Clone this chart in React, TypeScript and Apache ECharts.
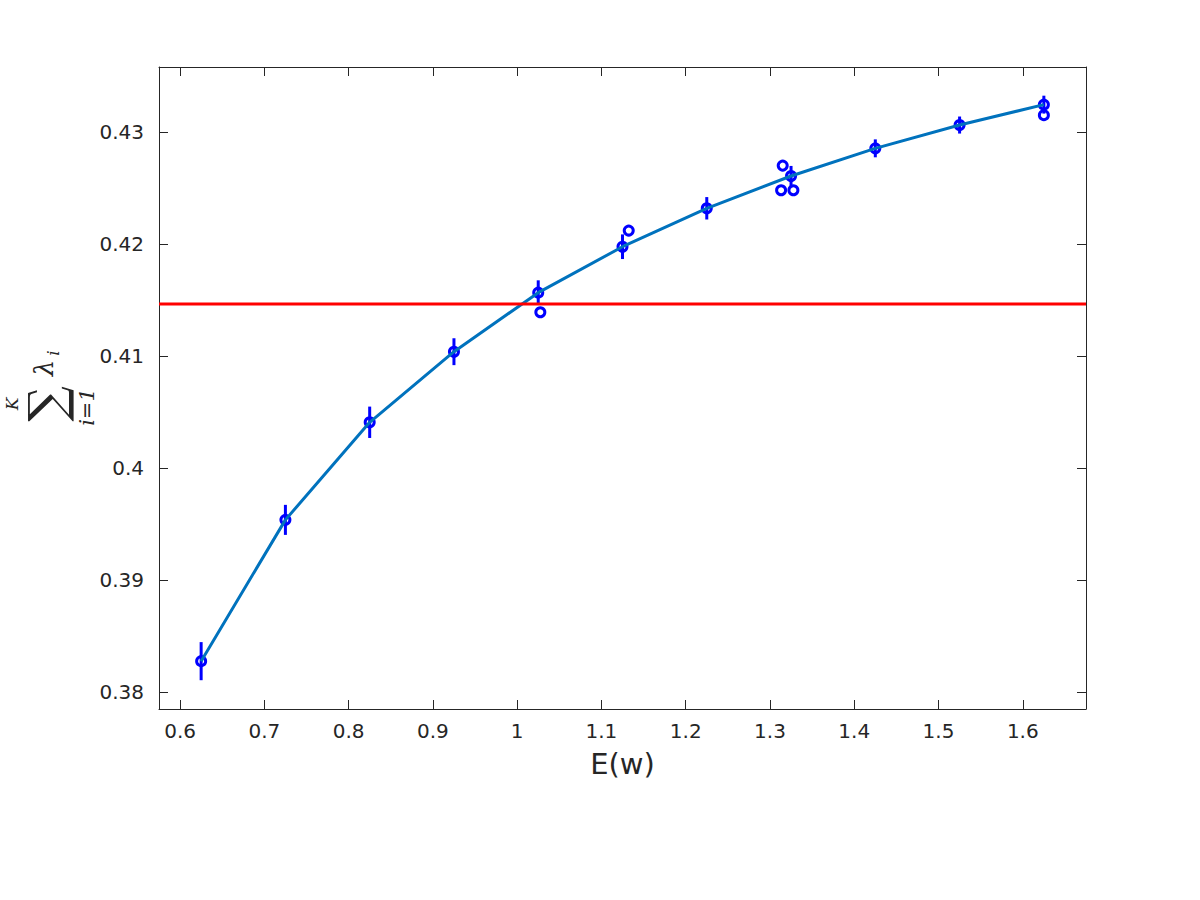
import React, { useEffect, useRef } from 'react';
import * as echarts from 'echarts';

const xValues = [0.625, 0.725, 0.825, 0.925, 1.025, 1.125, 1.225, 1.325, 1.425, 1.525, 1.625];
const meanValues = [0.38277, 0.39538, 0.40409, 0.41039, 0.41566, 0.41976, 0.42319, 0.42607, 0.42854, 0.43062, 0.43244];
const errValues = [0.0017, 0.00134, 0.0014, 0.0012, 0.0011, 0.0011, 0.001, 0.0009, 0.0008, 0.00076, 0.0008];
const extraX = [1.0275, 1.1324, 1.3151, 1.3132, 1.3278, 1.625];
const extraY = [0.41391, 0.4212, 0.427, 0.4248, 0.4248, 0.4315];
const thresholdY = 0.41465;
const xLabel = 'E(w)';

const AXIS_COLOR = '#262626';
const FONT = 'DejaVu Sans';

export default function App() {
  const ref = useRef<HTMLDivElement>(null);
  useEffect(() => {
    if (!ref.current) return;
    const chart = echarts.init(ref.current, null, { renderer: 'svg' });
    const xMin = 0.575, xMax = 1.675, yMin = 0.3785, yMax = 0.4358;
    const commonX = {
      type: 'value', min: xMin, max: xMax, splitNumber: 11,
      axisLine: { show: true, onZero: false, lineStyle: { color: AXIS_COLOR, width: 1 } },
      axisTick: { show: true, inside: true, length: 9, lineStyle: { color: AXIS_COLOR, width: 1 } },
      splitLine: { show: false },
    };
    const commonY = {
      type: 'value', min: yMin, max: yMax, splitNumber: 6,
      axisLine: { show: true, onZero: false, lineStyle: { color: AXIS_COLOR, width: 1 } },
      axisTick: { show: true, inside: true, length: 9, lineStyle: { color: AXIS_COLOR, width: 1 } },
      splitLine: { show: false },
    };
    const meanData = xValues.map((x, i) => [x, meanValues[i]]);
    const errData = xValues.map((x, i) => [x, meanValues[i] - errValues[i], meanValues[i] + errValues[i]]);
    const extraData = extraX.map((x, i) => [x, extraY[i]]);
    const markerStyle = { color: 'rgba(0,0,0,0)', borderColor: '#0000ff', borderWidth: 3, opacity: 1 };
    const option: any = {
      animation: false,
      backgroundColor: '#ffffff',
      grid: { left: 159, top: 67, right: 114, bottom: 191, containLabel: false },
      xAxis: [
        {
          ...commonX, position: 'bottom',
          axisLabel: { show: true, color: AXIS_COLOR, fontFamily: FONT, fontSize: 20, margin: 12, showMinLabel: false, showMaxLabel: false },
        },
        { ...commonX, position: 'top', axisLabel: { show: false } },
      ],
      yAxis: [
        {
          ...commonY, position: 'left',
          axisLabel: { show: true, color: AXIS_COLOR, fontFamily: FONT, fontSize: 20, margin: 15, showMinLabel: false, showMaxLabel: false },
        },
        { ...commonY, position: 'right', axisLabel: { show: false } },
      ],
      series: [
        {
          type: 'custom', xAxisIndex: 0, yAxisIndex: 0, z: 2,
          data: errData,
          renderItem: (params: any, api: any) => {
            const p1 = api.coord([api.value(0), api.value(1)]);
            const p2 = api.coord([api.value(0), api.value(2)]);
            return {
              type: 'line',
              shape: { x1: p1[0], y1: p1[1], x2: p2[0], y2: p2[1] },
              style: { stroke: '#0000ff', lineWidth: 3 },
            };
          },
        },
        {
          type: 'scatter', z: 3, data: meanData, symbol: 'circle', symbolSize: 9,
          itemStyle: markerStyle, emphasis: { disabled: true },
        },
        {
          type: 'scatter', z: 3, data: extraData, symbol: 'circle', symbolSize: 9,
          itemStyle: markerStyle, emphasis: { disabled: true },
        },
        {
          type: 'line', z: 4, data: meanData, showSymbol: false, symbol: 'none',
          lineStyle: { color: '#0072bd', width: 3 },
        },
        {
          type: 'line', z: 5, data: [[xMin, thresholdY], [xMax, thresholdY]], showSymbol: false, symbol: 'none',
          lineStyle: { color: '#ff0000', width: 3 },
        },
      ],
      graphic: [
        {
          type: 'text', x: 622.5, y: 764,
          style: { text: xLabel, fontFamily: FONT, fontSize: 29, fill: AXIS_COLOR, textAlign: 'center', textVerticalAlign: 'middle' },
        },
        {
          type: 'group', x: 47, y: 404, rotation: Math.PI / 2,
          children: [
            { type: 'text', x: 0, y: 0, style: { text: '∑', fontFamily: 'DejaVu Serif', fontSize: 50, fill: AXIS_COLOR, textAlign: 'center', textVerticalAlign: 'middle' } },
            { type: 'text', x: 0, y: -35, style: { text: 'K', fontFamily: 'DejaVu Serif', fontStyle: 'italic', fontSize: 17, fill: AXIS_COLOR, textAlign: 'center', textVerticalAlign: 'middle' } },
            { type: 'text', x: -3, y: 40, style: { text: 'i=1', fontFamily: 'DejaVu Serif', fontStyle: 'italic', fontSize: 21, fill: AXIS_COLOR, textAlign: 'center', textVerticalAlign: 'middle' } },
            { type: 'text', x: 36, y: -3, style: { text: 'λ', fontFamily: 'DejaVu Serif', fontStyle: 'italic', fontSize: 26, fill: AXIS_COLOR, textAlign: 'center', textVerticalAlign: 'middle' } },
            { type: 'text', x: 51, y: 6, style: { text: 'i', fontFamily: 'DejaVu Serif', fontStyle: 'italic', fontSize: 17, fill: AXIS_COLOR, textAlign: 'center', textVerticalAlign: 'middle' } },
          ],
        },
      ],
    };
    chart.setOption(option);
    return () => chart.dispose();
  }, []);
  return <div ref={ref} style={{ width: 1200, height: 900, position: 'absolute', left: 0, top: 0 }} />;
}
